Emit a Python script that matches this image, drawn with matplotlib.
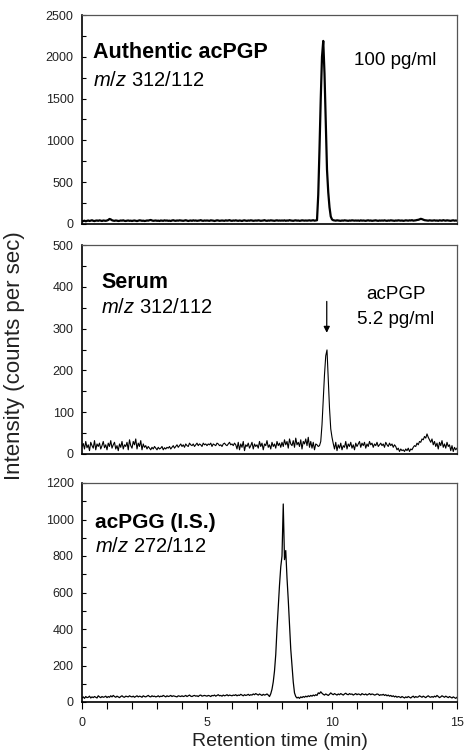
import numpy as np
import matplotlib
matplotlib.use("Agg")
import matplotlib.pyplot as plt
from matplotlib.ticker import MultipleLocator

plt.rcParams['font.family'] = ['Liberation Sans', 'DejaVu Sans']
plt.rcParams['mathtext.fontset'] = 'custom'
plt.rcParams['mathtext.it'] = 'Liberation Sans:italic'
plt.rcParams['mathtext.rm'] = 'Liberation Sans'

# time grid (min), 0.05 min steps
time = np.round(np.arange(0, 15.001, 0.05), 2)

authentic = [
    30, 35, 40, 32, 38, 42, 36, 40, 45, 38, 35, 40, 42, 38, 44, 40, 36, 42, 40, 38,
    42, 48, 60, 55, 45, 40, 38, 42, 40, 36, 38, 42, 40, 44, 38, 36, 40, 42, 38, 40,
    36, 40, 42, 38, 35, 40, 44, 42, 38, 40, 36, 38, 42, 40, 45, 48, 42, 38, 40, 42,
    38, 40, 36, 42, 40, 38, 44, 40, 42, 38, 40, 36, 42, 45, 40, 38, 42, 40, 44, 42,
    40, 38, 42, 45, 40, 36, 40, 42, 38, 44, 40, 42, 38, 40, 42, 46, 40, 38, 42, 40,
    42, 40, 38, 44, 42, 40, 36, 40, 44, 42, 38, 40, 42, 40, 38, 44, 40, 42, 46, 40,
    38, 42, 40, 44, 40, 38, 42, 40, 36, 42, 44, 40, 38, 42, 40, 44, 42, 38, 40, 42,
    40, 44, 42, 38, 40, 42, 46, 40, 38, 42, 40, 44, 42, 40, 38, 42, 44, 40, 42, 40,
    42, 40, 44, 38, 42, 40, 46, 42, 40, 38, 42, 44, 40, 42, 38, 40, 44, 42, 40, 42,
    40, 42, 44, 40, 42, 45, 40, 42, 45, 350, 900, 1500, 2000, 2190, 1800, 1200, 650, 380, 200, 90,
    55, 45, 42, 40, 44, 42, 40, 38, 42, 40, 44, 42, 40, 38, 42, 40, 44, 42, 40, 42,
    40, 42, 38, 44, 40, 42, 40, 38, 42, 44, 40, 42, 38, 40, 42, 44, 40, 38, 42, 40,
    42, 40, 44, 40, 38, 42, 40, 44, 42, 40, 38, 42, 40, 44, 42, 40, 42, 38, 40, 44,
    42, 40, 44, 42, 46, 40, 42, 44, 48, 50, 55, 62, 58, 52, 46, 44, 42, 40, 44, 42,
    40, 42, 44, 40, 42, 38, 44, 42, 40, 46, 42, 40, 44, 42, 40, 38, 42, 44, 40, 42,
    40,
]

serum = [
    18, 25, 12, 30, 15, 22, 8, 28, 20, 14, 32, 10, 24, 18, 26, 12, 20, 30, 15, 22,
    10, 26, 18, 32, 14, 22, 28, 12, 20, 8, 24, 16, 30, 12, 22, 18, 28, 10, 34, 20,
    14, 30, 22, 36, 12, 26, 18, 32, 10, 24, 16, 20, 12, 18, 14, 10, 16, 12, 18, 14,
    10, 16, 12, 14, 18, 10, 15, 12, 16, 14, 18, 12, 16, 20, 14, 18, 22, 16, 20, 24,
    18, 22, 16, 24, 20, 18, 26, 22, 20, 24, 18, 22, 26, 20, 24, 22, 18, 26, 22, 24,
    20, 24, 22, 26, 18, 24, 22, 20, 26, 24, 20, 22, 18, 24, 26, 22, 20, 24, 28, 22,
    24, 20, 26, 22, 12, 28, 10, 24, 16, 30, 8, 22, 18, 26, 14, 20, 28, 12, 24, 18,
    22, 14, 30, 18, 26, 10, 24, 20, 32, 16, 22, 12, 28, 18, 24, 14, 30, 20, 26, 16,
    28, 18, 34, 22, 30, 14, 36, 24, 20, 32, 16, 38, 22, 28, 18, 34, 12, 30, 24, 36,
    20, 40, 16, 30, 14, 28, 10, 24, 22, 18, 20, 30, 70, 130, 190, 235, 249, 180, 110, 60,
    40, 25, 12, 28, 8, 22, 14, 26, 10, 20, 16, 30, 12, 24, 18, 28, 14, 22, 10, 26,
    18, 24, 30, 16, 26, 20, 28, 14, 24, 18, 30, 22, 26, 16, 24, 20, 28, 18, 22, 26,
    20, 24, 16, 28, 22, 18, 26, 20, 24, 16, 22, 18, 10, 14, 6, 12, 8, 10, 6, 12,
    8, 14, 6, 12, 10, 16, 20, 18, 26, 22, 30, 28, 36, 34, 42, 38, 48, 40, 34, 28,
    36, 22, 30, 18, 26, 12, 28, 20, 32, 16, 24, 14, 28, 18, 22, 8, 20, 6, 16, 10,
    14,
]

acpgg = [
    22, 28, 20, 30, 24, 26, 32, 22, 28, 24, 30, 26, 22, 34, 28, 24, 30, 26, 28, 32,
    24, 30, 26, 34, 28, 36, 30, 26, 32, 28, 24, 30, 34, 28, 26, 32, 30, 28, 34, 30,
    28, 32, 26, 30, 34, 28, 32, 30, 26, 34, 30, 28, 32, 36, 30, 28, 34, 30, 32, 28,
    30, 34, 28, 32, 30, 36, 32, 28, 34, 30, 32, 36, 30, 34, 32, 30, 28, 34, 32, 30,
    34, 30, 32, 36, 30, 34, 38, 32, 30, 34, 36, 32, 34, 30, 36, 38, 32, 34, 36, 34,
    32, 36, 34, 30, 36, 34, 38, 32, 36, 40, 34, 36, 32, 38, 34, 36, 40, 34, 38, 36,
    34, 38, 36, 40, 34, 38, 36, 42, 38, 34, 40, 36, 38, 42, 36, 40, 38, 44, 40, 46,
    42, 38, 44, 40, 36, 42, 38, 40, 44, 38, 30, 45, 70, 110, 170, 260, 400, 520, 640, 740,
    800, 1085, 780, 830, 680, 560, 420, 290, 200, 110, 50, 30, 22, 26, 20, 28, 24, 30, 26, 32,
    28, 34, 30, 36, 32, 38, 34, 40, 36, 50, 46, 56, 48, 42, 38, 44, 40, 36, 42, 50,
    44, 40, 46, 42, 38, 44, 40, 46, 42, 38, 44, 48, 42, 40, 46, 42, 44, 38, 42, 46,
    40, 44, 42, 38, 46, 42, 40, 44, 38, 42, 46, 40, 44, 42, 38, 40, 44, 42, 36, 40,
    38, 42, 36, 40, 34, 38, 32, 36, 30, 34, 28, 32, 26, 30, 28, 24, 30, 26, 22, 28,
    24, 30, 26, 22, 28, 32, 24, 30, 26, 28, 34, 30, 26, 32, 28, 24, 30, 34, 28, 26,
    30, 26, 32, 28, 36, 30, 24, 28, 34, 30, 26, 32, 28, 24, 30, 26, 22, 28, 24, 20,
    26,
]

x_ticks = [0, 5, 10, 15]
y_limits = [2500, 500, 1200]
y_major = [500, 100, 200]
y_minor = [250, 50, 100]

W, H = 468, 753
fig = plt.figure(figsize=(W / 100, H / 100), dpi=100)

def frac(left, top, right, bottom):
    return [left / W, 1 - bottom / H, (right - left) / W, (bottom - top) / H]

ax1 = fig.add_axes(frac(82, 15, 457, 224))
ax2 = fig.add_axes(frac(82, 245, 457, 454))
ax3 = fig.add_axes(frac(82, 483, 457, 702))
axes = [ax1, ax2, ax3]
series = [authentic, serum, acpgg]
lws = [1.6, 0.8, 0.9]

for ax, s, lw, ylim, ymaj, ymin in zip(axes, series, lws, y_limits, y_major, y_minor):
    ax.plot(time, s, color='black', lw=lw)
    ax.set_xlim(0, 15)
    ax.set_ylim(0, ylim)
    ax.yaxis.set_major_locator(MultipleLocator(ymaj))
    ax.yaxis.set_minor_locator(MultipleLocator(ymin))
    ax.tick_params(axis='y', which='both', direction='in', length=3, width=0.8,
                   labelsize=9, labelcolor='#222222', pad=6)
    for side in ['top', 'right']:
        ax.spines[side].set_color('#555555')
        ax.spines[side].set_linewidth(0.9)
    for side in ['left', 'bottom']:
        ax.spines[side].set_color('black')
        ax.spines[side].set_linewidth(1.2)

for ax in [ax1, ax2]:
    ax.set_xticks([])

ax3.set_xticks(x_ticks)
ax3.xaxis.set_minor_locator(MultipleLocator(1))
ax3.tick_params(axis='x', which='both', direction='out', length=5, width=0.8,
                labelsize=9, labelcolor='#222222', pad=6)

# Panel texts
ax1.text(0.44, 1986, 'Authentic acPGP', fontsize=15.5, fontweight='bold', va='baseline')
ax1.text(0.44, 1651, r'$\mathit{m/z}$ 312/112', fontsize=14.5, va='baseline')
ax1.text(10.88, 1902, '100 pg/ml', fontsize=13.5, va='baseline')

ax2.text(0.76, 397, 'Serum', fontsize=15.5, fontweight='bold', va='baseline')
ax2.text(0.76, 337, r'$\mathit{m/z}$ 312/112', fontsize=14.5, va='baseline')
ax2.text(12.56, 371, 'acPGP', fontsize=13.5, va='baseline', ha='center')
ax2.text(12.56, 311, '5.2 pg/ml', fontsize=13.5, va='baseline', ha='center')
ax2.annotate('', xy=(9.79, 290), xytext=(9.79, 365),
             arrowprops=dict(arrowstyle='-|>', color='black', lw=0.9,
                             mutation_scale=9, shrinkA=0, shrinkB=0))

ax3.text(0.52, 955, 'acPGG (I.S.)', fontsize=15, fontweight='bold', va='baseline')
ax3.text(0.52, 820, r'$\mathit{m/z}$ 272/112', fontsize=14.5, va='baseline')

fig.text(15 / W, 1 - 356 / H, 'Intensity (counts per sec)', rotation=90,
         ha='center', va='center', fontsize=16, color='#222222')
fig.text(280 / W, 1 - 742 / H, 'Retention time (min)', ha='center', va='center',
         fontsize=14, color='#222222')

fig.savefig('out.png', dpi=100)
